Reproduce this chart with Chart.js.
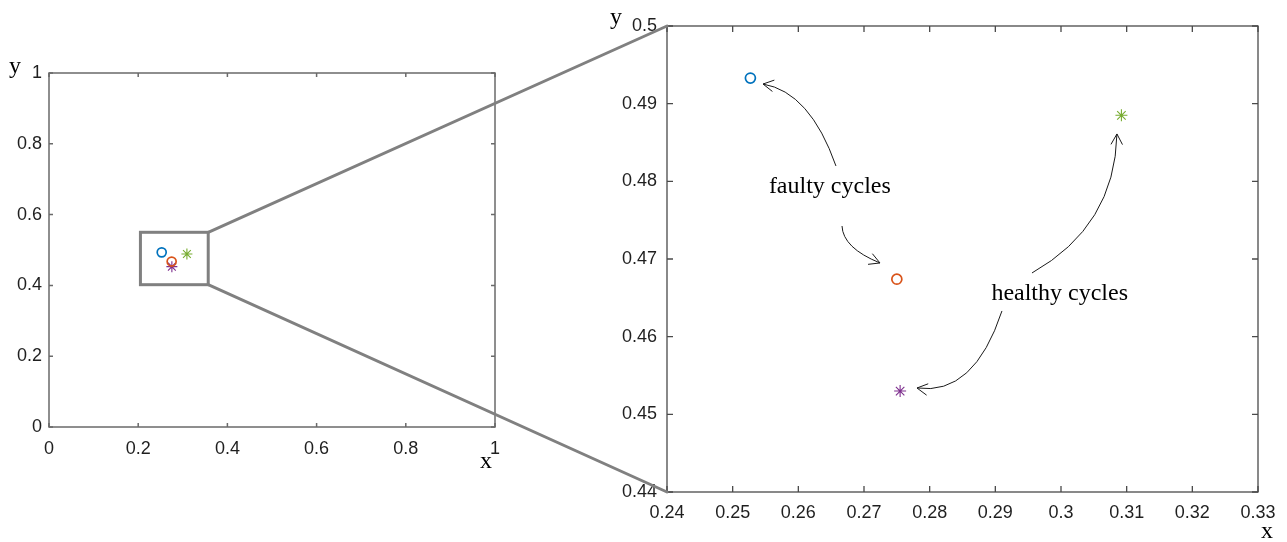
<!DOCTYPE html>
<html><head><meta charset="utf-8">
<script src="https://cdn.jsdelivr.net/npm/chart.js@4/dist/chart.umd.min.js"></script>
<style>
html,body{margin:0;padding:0;background:#fff;width:1287px;height:542px;overflow:hidden}
.wrap{position:absolute;left:0;top:0;width:1287px;height:542px}
canvas{position:absolute;left:0;top:0}
</style></head><body>
<div class="wrap"><canvas id="c1" width="1287" height="542"></canvas></div>
<div class="wrap"><canvas id="c2" width="1287" height="542"></canvas></div>
<script>
// ---------------- data ----------------
const faultyAX = [0.2527], faultyAY = [0.4933];   // blue circle
const faultyBX = [0.2750], faultyBY = [0.4674];   // orange circle
const healthyAX = [0.3092], healthyAY = [0.4885]; // green star
const healthyBX = [0.2755], healthyBY = [0.4530]; // purple star

const overviewTicks = [0, 0.2, 0.4, 0.6, 0.8, 1];
const overviewTickLabels = ['0', '0.2', '0.4', '0.6', '0.8', '1'];
const zoomXTicks = [0.24, 0.25, 0.26, 0.27, 0.28, 0.29, 0.30, 0.31, 0.32, 0.33];
const zoomXTickLabels = ['0.24', '0.25', '0.26', '0.27', '0.28', '0.29', '0.3', '0.31', '0.32', '0.33'];
const zoomYTicks = [0.44, 0.45, 0.46, 0.47, 0.48, 0.49, 0.50];
const zoomYTickLabels = ['0.44', '0.45', '0.46', '0.47', '0.48', '0.49', '0.5'];

// zoom window drawn on overview (data coords)
const zoomBoxX = [0.205, 0.357];
const zoomBoxY = [0.402, 0.550];

// annotations in zoom-panel data coords
const annotationTexts = ['faulty cycles', 'healthy cycles'];
const annotationTextX = [0.2648, 0.2998];
const annotationTextY = [0.4793, 0.4655];
// arrows: start, control, end
const arrowStartX = [0.26573, 0.26665, 0.29558, 0.29101];
const arrowStartY = [0.48198, 0.47425, 0.46820, 0.46331];
const arrowCtrlX  = [0.26178, 0.26680, 0.30822, 0.28675];
const arrowCtrlY  = [0.49150, 0.47142, 0.47425, 0.45236];
const arrowEndX   = [0.25462, 0.27243, 0.30852, 0.27807];
const arrowEndY   = [0.49253, 0.46949, 0.48610, 0.45339];

// ---------------- helpers ----------------
const C_BLUE = '#0072BD', C_ORANGE = '#D95319', C_GREEN = '#77AC30', C_PURPLE = '#7E2F8E';
const TICK_FONT = {family: '"Liberation Sans", Arial, sans-serif', size: 18};
const SERIF = '"Liberation Serif", "Times New Roman", serif';

function pts(xs, ys) { return xs.map((x, i) => ({x: x, y: ys[i]})); }

function makeDatasets(r) {
  return [
    {data: pts(faultyAX, faultyAY), pointStyle: 'circle', pointRadius: r, borderColor: C_BLUE, backgroundColor: 'rgba(0,0,0,0)', pointBorderWidth: 1.7},
    {data: pts(faultyBX, faultyBY), pointStyle: 'circle', pointRadius: r, borderColor: C_ORANGE, backgroundColor: 'rgba(0,0,0,0)', pointBorderWidth: 1.7},
    {data: pts(healthyAX, healthyAY), pointStyle: 'star', pointRadius: r + 1, borderColor: C_GREEN, backgroundColor: C_GREEN, pointBorderWidth: 1.1},
    {data: pts(healthyBX, healthyBY), pointStyle: 'star', pointRadius: r + 1, borderColor: C_PURPLE, backgroundColor: C_PURPLE, pointBorderWidth: 1.1}
  ];
}

function scaleOpts(pos, min, max, tickVals, tickLabels, fitSize, pad) {
  return {
    type: 'linear', position: pos, min: min, max: max,
    grid: {display: false, drawTicks: false, tickLength: 0},
    border: {display: false},
    afterBuildTicks: s => { s.ticks = tickVals.map(v => ({value: v})); },
    afterFit: s => { if (pos === 'left') s.width = fitSize; else s.height = fitSize; },
    ticks: {autoSkip: false, maxRotation: 0, minRotation: 0, color: '#1f1f1f', font: TICK_FONT, padding: pad,
      callback: (v, i) => tickLabels[i]}
  };
}

function boxPlugin(tickLen, color, lw, xLab, yLab) {
  return {
    id: 'matlabBox',
    beforeDatasetsDraw(chart) {
      const ctx = chart.ctx, a = chart.chartArea, xs = chart.scales.x, ys = chart.scales.y;
      ctx.save();
      ctx.strokeStyle = color; ctx.lineWidth = lw;
      ctx.strokeRect(a.left, a.top, a.right - a.left, a.bottom - a.top);
      ctx.beginPath();
      xs.ticks.forEach(t => {
        const p = xs.getPixelForValue(t.value);
        ctx.moveTo(p, a.bottom); ctx.lineTo(p, a.bottom - tickLen);
        ctx.moveTo(p, a.top); ctx.lineTo(p, a.top + tickLen);
      });
      ys.ticks.forEach(t => {
        const p = ys.getPixelForValue(t.value);
        ctx.moveTo(a.left, p); ctx.lineTo(a.left + tickLen, p);
        ctx.moveTo(a.right, p); ctx.lineTo(a.right - tickLen, p);
      });
      ctx.stroke();
      // axis letters
      ctx.fillStyle = '#000';
      ctx.font = '24px ' + SERIF;
      ctx.textAlign = 'center'; ctx.textBaseline = 'alphabetic';
      ctx.fillText('x', a.right + xLab[0], a.bottom + xLab[1]);
      ctx.fillText('y', a.left + yLab[0], a.top + yLab[1]);
      ctx.restore();
    }
  };
}

// ---------------- overview chart ----------------
const zoomBoxPlugin = {
  id: 'zoomBox',
  afterDatasetsDraw(chart) {
    const ctx = chart.ctx, xs = chart.scales.x, ys = chart.scales.y;
    const x0 = xs.getPixelForValue(zoomBoxX[0]), x1 = xs.getPixelForValue(zoomBoxX[1]);
    const y0 = ys.getPixelForValue(zoomBoxY[1]), y1 = ys.getPixelForValue(zoomBoxY[0]);
    ctx.save();
    ctx.strokeStyle = '#808080'; ctx.lineWidth = 3;
    ctx.strokeRect(x0, y0, x1 - x0, y1 - y0);
    ctx.restore();
  }
};

const overview = new Chart(document.getElementById('c1'), {
  type: 'scatter',
  data: {datasets: makeDatasets(4.5)},
  options: {
    responsive: false, animation: false, events: [],
    layout: {padding: {left: 0, right: 792, top: 73, bottom: 75}},
    plugins: {legend: {display: false}, tooltip: {enabled: false}},
    scales: {
      x: scaleOpts('bottom', 0, 1, overviewTicks, overviewTickLabels, 40, 11),
      y: scaleOpts('left', 0, 1, overviewTicks, overviewTickLabels, 49, 7)
    }
  },
  plugins: [boxPlugin(4, '#6a6a6a', 1.5, [-9, 41], [-34, 0]), zoomBoxPlugin]
});

// ---------------- zoom chart ----------------
const annotPlugin = {
  id: 'annot',
  afterDraw(chart) {
    const ctx = chart.ctx, xs = chart.scales.x, ys = chart.scales.y, a = chart.chartArea;
    ctx.save();
    // connectors from overview zoom box
    const ox = overview.scales.x, oy = overview.scales.y;
    const bx = ox.getPixelForValue(zoomBoxX[1]);
    const byTop = oy.getPixelForValue(zoomBoxY[1]);
    const byBot = oy.getPixelForValue(zoomBoxY[0]);
    ctx.strokeStyle = '#808080'; ctx.lineWidth = 3; ctx.lineCap = 'round';
    ctx.beginPath();
    ctx.moveTo(bx, byTop); ctx.lineTo(a.left, a.top);
    ctx.moveTo(bx, byBot); ctx.lineTo(a.left, a.bottom);
    ctx.stroke();
    // texts
    ctx.fillStyle = '#000';
    ctx.font = '24px ' + SERIF;
    ctx.textAlign = 'center'; ctx.textBaseline = 'middle';
    annotationTexts.forEach((t, i) => {
      ctx.fillText(t, xs.getPixelForValue(annotationTextX[i]), ys.getPixelForValue(annotationTextY[i]));
    });
    // arrows
    ctx.strokeStyle = '#1a1a1a'; ctx.lineWidth = 1; ctx.lineCap = 'butt';
    arrowStartX.forEach((_, i) => {
      const sx = xs.getPixelForValue(arrowStartX[i]), sy = ys.getPixelForValue(arrowStartY[i]);
      const cx = xs.getPixelForValue(arrowCtrlX[i]), cy = ys.getPixelForValue(arrowCtrlY[i]);
      const ex = xs.getPixelForValue(arrowEndX[i]), ey = ys.getPixelForValue(arrowEndY[i]);
      ctx.beginPath();
      ctx.moveTo(sx, sy); ctx.quadraticCurveTo(cx, cy, ex, ey);
      const ang = Math.atan2(ey - cy, ex - cx), L = 12, da = 0.5;
      ctx.moveTo(ex - L * Math.cos(ang - da), ey - L * Math.sin(ang - da));
      ctx.lineTo(ex, ey);
      ctx.lineTo(ex - L * Math.cos(ang + da), ey - L * Math.sin(ang + da));
      ctx.stroke();
    });
    ctx.restore();
  }
};

const zoomChart = new Chart(document.getElementById('c2'), {
  type: 'scatter',
  data: {datasets: makeDatasets(5)},
  options: {
    responsive: false, animation: false, events: [],
    layout: {padding: {left: 600, right: 29, top: 26, bottom: 10}},
    plugins: {legend: {display: false}, tooltip: {enabled: false}},
    scales: {
      x: scaleOpts('bottom', 0.24, 0.33, zoomXTicks, zoomXTickLabels, 40, 10),
      y: scaleOpts('left', 0.44, 0.50, zoomYTicks, zoomYTickLabels, 67, 10)
    }
  },
  plugins: [boxPlugin(6, '#4a4a4a', 1.3, [9, 46], [-51, -2]), annotPlugin]
});
</script>
</body></html>
